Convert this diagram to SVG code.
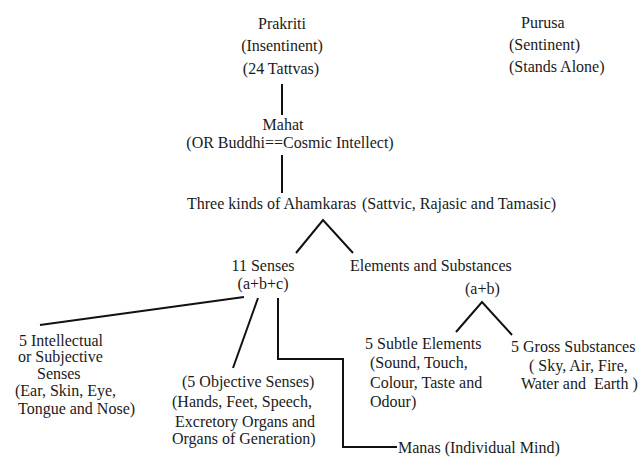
<svg xmlns="http://www.w3.org/2000/svg" width="643" height="461" viewBox="0 0 643 461">
<style>
text{font-family:"Liberation Serif","Times New Roman",Times,serif;font-size:16px;fill:#1a1a1a}
.m{text-anchor:middle}
.c{stroke:#111;stroke-width:2;fill:none}
</style>
<rect width="643" height="461" fill="#fff"/>
<g id="connectors">
<line class="c" x1="282" y1="84" x2="282" y2="115"/>
<line class="c" x1="282" y1="155" x2="282" y2="193"/>
<polyline class="c" points="296,253 323,220 353,253"/>
<line class="c" x1="244" y1="297" x2="40" y2="325"/>
<line class="c" x1="258" y1="298" x2="233" y2="368"/>
<polyline class="c" points="278,298 278,359 343,359 343,447 397,447"/>
<polyline class="c" points="456,332 482,302 512,335"/>
</g>
<g id="prakriti" font-family="Liberation Serif, serif">
<text class="m" x="282" y="29">Prakriti</text>
<text class="m" x="282" y="51">(Insentinent)</text>
<text class="m" x="281" y="74">(24 Tattvas)</text>
</g>
<g id="purusa">
<text x="521" y="28">Purusa</text>
<text x="509" y="50">(Sentinent)</text>
<text x="509" y="72">(Stands Alone)</text>
</g>
<g id="mahat">
<text class="m" x="283" y="130">Mahat</text>
<text class="m" x="290" y="148">(OR Buddhi==Cosmic Intellect)</text>
</g>
<g id="ahamkaras">
<text x="187" y="209">Three kinds of Ahamkaras</text>
<text x="362" y="209">(Sattvic, Rajasic and Tamasic)</text>
</g>
<g id="senses">
<text class="m" x="263" y="271">11 Senses</text>
<text class="m" x="263" y="289">(a+b+c)</text>
</g>
<g id="elements">
<text x="350" y="271">Elements and Substances</text>
<text x="465" y="294">(a+b)</text>
</g>
<g id="intellectual">
<text x="19" y="346">5 Intellectual</text>
<text x="18" y="362">or Subjective</text>
<text x="37" y="379">Senses</text>
<text x="15" y="396">(Ear, Skin, Eye,</text>
<text x="18" y="414">Tongue and Nose)</text>
</g>
<g id="objective">
<text x="182" y="387">(5 Objective Senses)</text>
<text x="172" y="407">(Hands, Feet, Speech,</text>
<text x="175" y="427">Excretory Organs and</text>
<text x="172" y="444">Organs of Generation)</text>
</g>
<g id="manas">
<text x="398" y="453">Manas (Individual Mind)</text>
</g>
<g id="subtle">
<text x="365" y="349">5 Subtle Elements</text>
<text x="370" y="368">(Sound, Touch,</text>
<text x="370" y="388">Colour, Taste and</text>
<text x="370" y="407">Odour)</text>
</g>
<g id="gross">
<text x="511" y="352">5 Gross Substances</text>
<text x="529" y="371">( Sky, Air, Fire,</text>
<text x="521" y="389" xml:space="preserve">Water and  Earth )</text>
</g>
</svg>
